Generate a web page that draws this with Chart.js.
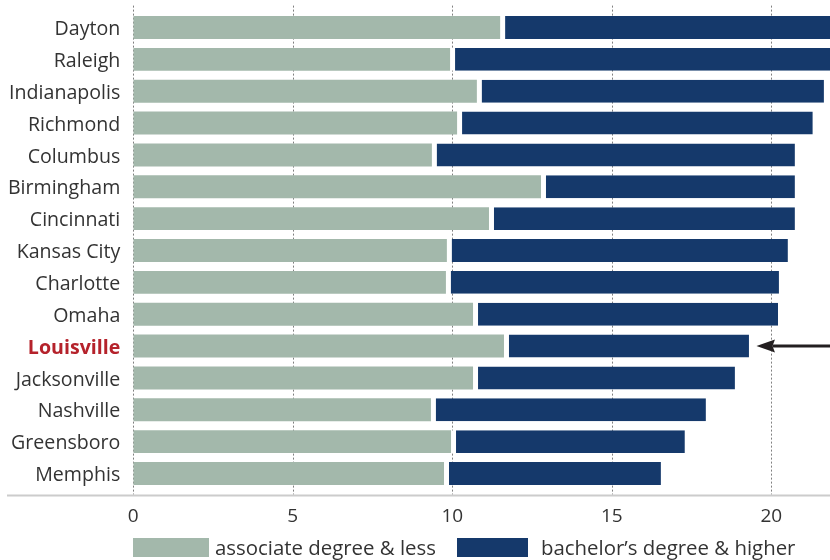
<!DOCTYPE html>
<html>
<head>
<meta charset="utf-8">
<script src="https://cdn.jsdelivr.net/npm/chart.js@4"></script>
<style>
  html, body { margin: 0; padding: 0; background: #fff; }
  #wrap { position: relative; width: 830px; height: 560px; }
  #legend { position: absolute; left: 0; top: 535px; height: 24px; width: 830px;
            font-family: 'Open Sans', Lato, sans-serif; font-size: 20.4px; color: #333; }
  .item { position: absolute; top: 0; display: flex; align-items: center; height: 24px; white-space: nowrap; }
  .box { display: inline-block; height: 19px; }
</style>
</head>
<body>
<div id="wrap">
  <canvas id="chart" width="830" height="560"></canvas>
  <div id="legend"></div>
</div>
<script>
'use strict';

/* ── data ── */
const CITIES = ['Dayton', 'Raleigh', 'Indianapolis', 'Richmond', 'Columbus', 'Birmingham',
  'Cincinnati', 'Kansas City', 'Charlotte', 'Omaha', 'Louisville', 'Jacksonville',
  'Nashville', 'Greensboro', 'Memphis'];
const ASSOCIATE = [11.5, 9.93, 10.77, 10.15, 9.36, 12.78, 11.15, 9.83, 9.8, 10.65, 11.62, 10.65, 9.33, 9.96, 9.74];
const BACHELOR  = [11.0, 12.3, 10.88, 11.15, 11.38, 7.96, 9.59, 10.69, 10.44, 9.56, 7.68, 8.21, 8.62, 7.33, 6.8];
const X_TICKS = [0, 5, 10, 15, 20];
const HIGHLIGHT = 'Louisville';
const LABELS = ['associate degree & less', 'bachelor\u2019s degree & higher'];

/* ── style ── */
const GREEN = '#a3b8ab';
const BLUE = '#15396b';
const RED = '#b5222b';
const TEXT = '#333333';
const FONT = "'Open Sans', Lato, sans-serif";
const hi = CITIES.indexOf(HIGHLIGHT);

// dotted grid + bottom rule + pointer arrow
const decor = {
  id: 'decor',
  beforeDatasetsDraw(chart) {
    const { ctx, chartArea: a, scales: { x } } = chart;
    ctx.save();
    ctx.strokeStyle = '#808080';
    ctx.lineWidth = 1;
    ctx.setLineDash([2, 2]);
    X_TICKS.forEach(v => {
      const px = Math.round(x.getPixelForValue(v)) + 0.5;
      ctx.beginPath();
      ctx.moveTo(px, a.top - 6);
      ctx.lineTo(px, a.bottom + 5);
      ctx.stroke();
    });
    ctx.setLineDash([]);
    ctx.strokeStyle = '#cccccc';
    ctx.lineWidth = 2;
    ctx.beginPath();
    ctx.moveTo(7, a.bottom + 6);
    ctx.lineTo(a.right, a.bottom + 6);
    ctx.stroke();
    ctx.restore();
  },
  afterDatasetsDraw(chart) {
    const { ctx, chartArea: a, scales: { x, y } } = chart;
    const tip = x.getPixelForValue(ASSOCIATE[hi] + BACHELOR[hi]) + 7.5;
    const cy = y.getPixelForValue(hi);
    ctx.save();
    ctx.fillStyle = '#231f20';
    ctx.strokeStyle = '#231f20';
    ctx.lineWidth = 3;
    ctx.beginPath();
    ctx.moveTo(tip + 16, cy);
    ctx.lineTo(a.right, cy);
    ctx.stroke();
    ctx.beginPath();
    ctx.moveTo(tip, cy);
    ctx.lineTo(tip + 18.5, cy - 6.5);
    ctx.lineTo(tip + 16, cy);
    ctx.lineTo(tip + 18.5, cy + 6.5);
    ctx.closePath();
    ctx.fill();
    ctx.restore();
  }
};

new Chart(document.getElementById('chart'), {
  type: 'bar',
  data: {
    labels: CITIES,
    datasets: [{
      label: LABELS[0],
      data: ASSOCIATE,
      backgroundColor: GREEN,
      borderWidth: 0,
      barPercentage: 0.72,
      categoryPercentage: 1
    }, {
      label: LABELS[1],
      data: BACHELOR,
      backgroundColor: BLUE,
      borderColor: '#ffffff',
      borderWidth: { left: 5, right: 0, top: 0, bottom: 0 },
      borderSkipped: false,
      barPercentage: 0.72,
      categoryPercentage: 1
    }]
  },
  options: {
    indexAxis: 'y',
    responsive: false,
    animation: false,
    layout: { padding: 0 },
    plugins: { legend: { display: false }, tooltip: { enabled: false } },
    scales: {
      x: {
        stacked: true,
        min: 0,
        max: 21.84,
        afterBuildTicks: s => { s.ticks = X_TICKS.map(v => ({ value: v })); },
        afterFit: s => { s.height = 70.6; },
        grid: { display: false, drawTicks: false },
        border: { display: false },
        ticks: { color: TEXT, padding: 16, font: { family: FONT, size: 19 } }
      },
      y: {
        stacked: true,
        afterFit: s => { s.width = 133.3; s.paddingTop = 11.6; s.paddingBottom = 0; },
        grid: { display: false, drawTicks: false },
        border: { display: false },
        ticks: {
          padding: 13,
          labelOffset: 2,
          color: c => c.index === hi ? RED : TEXT,
          font: c => ({ family: FONT, size: 19.6, weight: c.index === hi ? 'bold' : 'normal' })
        }
      }
    }
  },
  plugins: [decor]
});

// legend
const legend = document.getElementById('legend');
[[LABELS[0], GREEN, 133, 76, 6], [LABELS[1], BLUE, 457, 71, 13]].forEach(([t, c, left, w, gap]) => {
  const d = document.createElement('div');
  d.className = 'item';
  d.style.left = left + 'px';
  d.innerHTML = `<span class="box" style="background:${c};width:${w}px;margin-right:${gap}px"></span>${t}`;
  legend.appendChild(d);
});
</script>
</body>
</html>
